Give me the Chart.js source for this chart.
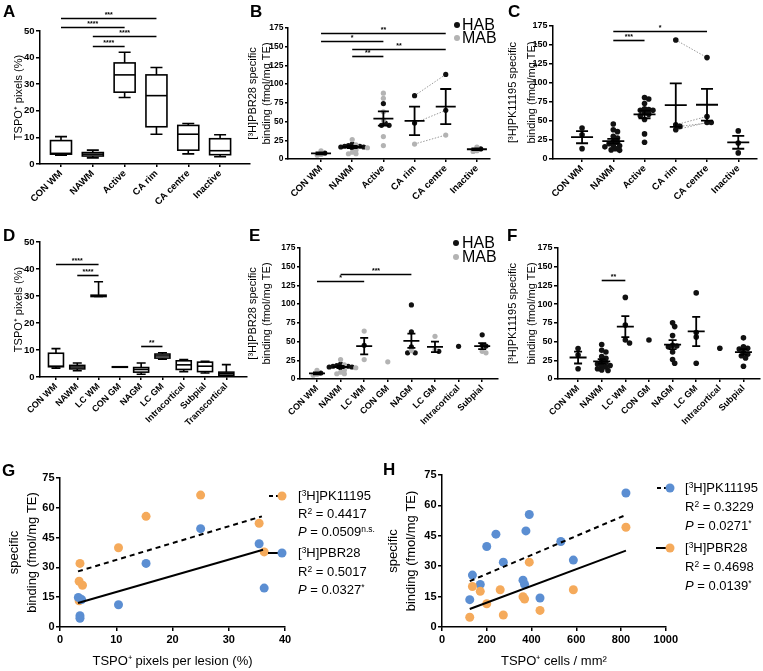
<!DOCTYPE html>
<html><head><meta charset="utf-8">
<script src="https://cdn.jsdelivr.net/npm/chart.js@4.4.1/dist/chart.umd.min.js"></script>
<style>
html,body{margin:0;padding:0;background:#fff;}
#wrap{position:relative;width:763px;height:671px;overflow:hidden;font-family:"Liberation Sans",Arial,Helvetica,sans-serif;color:#000;}
#wrap canvas{position:absolute;}
.pl{position:absolute;font-weight:bold;font-size:17px;line-height:17px;}
.t{position:absolute;white-space:nowrap;line-height:1;}
.leg{font-size:13px;}
.ab{font-size:16px;}
.dot{position:absolute;width:6px;height:6px;border-radius:50%;}
sup{font-size:65%;vertical-align:0;position:relative;top:-0.5em;}
svg{position:absolute;}
</style></head><body><div id="wrap">
<canvas id="cA"></canvas><canvas id="cB"></canvas><canvas id="cC"></canvas>
<canvas id="cD"></canvas><canvas id="cE"></canvas><canvas id="cF"></canvas>
<canvas id="cG"></canvas><canvas id="cH"></canvas>

<div class="pl" style="left:3px;top:3px">A</div>
<div class="pl" style="left:250px;top:3px">B</div>
<div class="pl" style="left:508px;top:3px">C</div>
<div class="pl" style="left:3px;top:227px">D</div>
<div class="pl" style="left:249px;top:227px">E</div>
<div class="pl" style="left:507px;top:227px">F</div>
<div class="pl" style="left:2px;top:462px">G</div>
<div class="pl" style="left:383px;top:461px">H</div>

<!-- HAB / MAB legends -->
<div class="dot" style="left:454px;top:22px;background:#111"></div>
<div class="t ab" style="left:462px;top:17px">HAB</div>
<div class="dot" style="left:454px;top:35px;background:#b3b3b3"></div>
<div class="t ab" style="left:462px;top:30px">MAB</div>
<div class="dot" style="left:453px;top:240px;background:#111"></div>
<div class="t ab" style="left:462px;top:235px">HAB</div>
<div class="dot" style="left:453px;top:254px;background:#b3b3b3"></div>
<div class="t ab" style="left:462px;top:249px">MAB</div>

<!-- G legend -->
<svg style="left:268px;top:491px" width="24" height="10"><line x1="1" y1="5" x2="12" y2="5" stroke="#000" stroke-width="2" stroke-dasharray="4,3"/><circle cx="14" cy="5" r="4.5" fill="#f5aa5b"/></svg>
<div class="t leg" style="left:298px;top:489px">[<sup>3</sup>H]PK11195</div>
<div class="t leg" style="left:298px;top:507px">R<sup>2</sup> = 0.4417</div>
<div class="t leg" style="left:298px;top:525px"><i>P</i> = 0.0509<sup>n.s.</sup></div>
<svg style="left:268px;top:548px" width="24" height="10"><line x1="0" y1="5" x2="12" y2="5" stroke="#000" stroke-width="2"/><circle cx="14" cy="5" r="4.5" fill="#5b8ed2"/></svg>
<div class="t leg" style="left:298px;top:546px">[<sup>3</sup>H]PBR28</div>
<div class="t leg" style="left:298px;top:565px">R<sup>2</sup> = 0.5017</div>
<div class="t leg" style="left:298px;top:583px"><i>P</i> = 0.0327<sup>*</sup></div>

<!-- H legend -->
<svg style="left:656px;top:483px" width="24" height="10"><line x1="1" y1="5" x2="12" y2="5" stroke="#000" stroke-width="2" stroke-dasharray="4,3"/><circle cx="14" cy="5" r="4.5" fill="#5b8ed2"/></svg>
<div class="t leg" style="left:685px;top:481px">[<sup>3</sup>H]PK11195</div>
<div class="t leg" style="left:685px;top:500px">R<sup>2</sup> = 0.3229</div>
<div class="t leg" style="left:685px;top:519px"><i>P</i> = 0.0271<sup>*</sup></div>
<svg style="left:656px;top:543px" width="24" height="10"><line x1="0" y1="5" x2="12" y2="5" stroke="#000" stroke-width="2"/><circle cx="14" cy="5" r="4.5" fill="#f5aa5b"/></svg>
<div class="t leg" style="left:685px;top:541px">[<sup>3</sup>H]PBR28</div>
<div class="t leg" style="left:685px;top:560px">R<sup>2</sup> = 0.4698</div>
<div class="t leg" style="left:685px;top:579px"><i>P</i> = 0.0139<sup>*</sup></div>
</div>
<script>
// ---------------- DATA ----------------
const catsAC = ['CON WM','NAWM','Active','CA rim','CA centre','Inactive'];
const catsD = ['CON WM','NAWM','LC WM','CON GM','NAGM','LC GM','Intracortical','Subpial','Transcortical'];
const catsEF = ['CON WM','NAWM','LC WM','CON GM','NAGM','LC GM','Intracortical','Subpial'];

// box plots: [min, q1, median, q3, max]
const boxA = [[3.3,3.7,4.0,8.8,10.3],[2.3,3.0,3.7,4.3,5.2],[25,27,33.5,38,42],[11.2,14,25.7,33.5,36.3],[3.8,5.2,11.2,14.5,15.2],[2.7,3.5,5,9.5,11]];
const boxD = [[3.3,3.8,4.0,8.8,10.5],[2.3,3.0,3.7,4.3,5.2],[29.8,29.8,30,30.3,35.3],[3.6,3.6,3.7,3.8,3.8],[1,1.8,2.8,3.5,5.2],[6.6,7,7.8,8.5,9],[2,2.8,4.5,6,6.5],[1.5,2,4,5.5,5.8],[0.3,0.6,1.2,1.8,4.6]];

// significance bars: [from category, to category, height, label]
const sigA = [[0,3,55,'***'],[0,2,51.5,'****'],[1,3,48,'****'],[1,2,44.5,'****']];
const sigB = [[0,4,168,'**'],[0,2,158,'*'],[1,4,147,'**'],[1,2,138,'**']];
const sigC = [[1,4,169,'*'],[1,2,156,'***']];
const sigD = [[0,2,42,'****'],[1,2,37.7,'****'],[4,5,11.5,'**']];
const sigE = [[0,2,131,'*'],[1,4,140.7,'***']];
const sigF = [[1,2,132,'**']];

// B: [3H]PBR28 binding, HAB and MAB per category
const bHab = [[8],[20,18,17,16,17,15,16],[74,45,45,48],[84.6,48],[113,65],[13.5]];
const bMab = [[11,5,6],[26,15,9,7,7,12,19],[88,81,63,52,30,18],[20],[32],[16,10,11]];
const bStats = [[7.5,1.3],[16,1.4],[54,9.5],[51,19],[70,23.5],[13,1.2]]; // [mean, SEM]

// C: [3H]PK11195 binding
const cVal = [[40.7,31.9,13.6],[46,38.5,36,30,27.6,23,22,20,18,17.5,13.6,12,11.4,16],[81,79,73,66,65,64,64,61,59,57,52,33,22],[156.6,45,38.5,42.9],[133.4,56,48,48],[37,21,8]];
const cStats = [[28.7,8],[23.6,3],[58.6,5],[70.8,28.6],[71.4,20.8],[22,8.5]];

// E: [3H]PBR28 binding (grey matter set)
const eHab = [[8],[20,18,17,16,17,15,16],[45],[],[99,63,43,35,35],[37],[43.6],[59,44,45]];
const eMab = [[11.5,5,6.5],[26,15,9,7,7,12,19],[64,26],[23],[38],[57,39],[],[37,35]];
const eStats = [[7.5,1.3],[16,1.4],[44,11],null,[51,9.5],[43,7],null,[44,4]];

// F: [3H]PK11195 binding (grey matter set)
const fVal = [[40.7,31.9,13.6],[46,38.5,36,30,27.6,23,22,20,18,17.5,13.6,12,11.4,16],[109,72,48,52],[52],[75,70,58,45,44,43,36,26,21],[115,62,56,21],[41],[55,43,41,40,36,33,31,28,17]];
const fStats = [[28.7,8],[23.6,3],[70,14],null,[46,6],[63.5,19.5],null,[36,3.8]];

// G: binding vs TSPO+ pixels per lesion (%)
const gPkX = [3.4,3.55,4.0,3.4,10.4,15.3,25.0,35.4,36.3];
const gPkY = [23,32,21,13.2,39.9,55.7,66.4,52.2,37.8];
const gPbX = [3.26,3.85,3.55,3.55,10.4,15.3,25.0,35.4,36.3];
const gPbY = [14.9,13.8,5.7,4.4,11.2,32,49.5,41.9,19.6];
const gPkFitX = [3.2,35.9], gPkFitY = [28,55.7];
const gPbFitX = [3.2,36.1], gPbFitY = [12.1,38.9];

// H: binding vs TSPO+ cells / mm2
const hPkX = [124,136,171,200,241,274,362,369,375,390,438,531,587,822];
const hPkY = [13.5,25.6,21,39.7,45.8,32,23.1,21,47.4,55.5,14.3,42.2,33,66.1];
const hPbX = [124,136,171,200,260,274,362,369,390,438,587,822];
const hPbY = [4.8,20,17.6,11.5,18.4,5.9,14.9,13.8,32,8.2,18.4,49.2];
const hPkFitX = [124,822], hPkFitY = [22.6,55.3];
const hPbFitX = [124,822], hPbFitY = [8.9,37.7];

// ---------------- STYLE / LAYOUT ----------------
const FONT = '"Liberation Sans", Arial, Helvetica, sans-serif';
Chart.defaults.font.family = FONT;
Chart.defaults.color = '#000';
Chart.defaults.animation = false;
const HAB = '#111111', MAB = '#b3b3b3', ORANGE = '#f5aa5b', BLUE = '#5b8ed2';

const GEO = {
  A:{cl:0,ct:0,cw:254,ch:205,l:40,t:31,r:250,b:164, xmin:-0.66, xmax:5.94},
  B:{cl:245,ct:0,cw:263,ch:205,l:288,t:28,r:490,b:159, xmin:-1.06, xmax:5.42},
  C:{cl:502,ct:0,cw:261,ch:205,l:553,t:26,r:757,b:159, xmin:-0.93, xmax:5.6},
  D:{cl:0,ct:205,cw:254,ch:222,l:40,t:242,r:247,b:377, xmin:-0.75, xmax:8.97},
  E:{cl:245,ct:205,cw:259,ch:222,l:300,t:248,r:498,b:379, xmin:-0.72, xmax:7.67},
  F:{cl:504,ct:205,cw:259,ch:222,l:558,t:248,r:760,b:379, xmin:-0.85, xmax:7.7},
  G:{cl:0,ct:430,cw:300,ch:241,l:60,t:478,r:285,b:627},
  H:{cl:380,ct:430,cw:300,ch:241,l:442,t:475,r:670,b:627}
};

function setupCanvas(id, g){
  const c = document.getElementById(id);
  c.width = g.cw; c.height = g.ch;
  c.style.left = g.cl+'px'; c.style.top = g.ct+'px';
  c.style.width = g.cw+'px'; c.style.height = g.ch+'px';
  return c;
}
function catAxis(g, cats, size){
  return {
    type:'linear', min:g.xmin, max:g.xmax, offset:false,
    afterBuildTicks: s => { s.ticks = cats.map((c,i)=>({value:i})); },
    afterFit: s => { s.height = g.ct+g.ch-g.b; },
    ticks:{autoSkip:false, minRotation:45, maxRotation:45, padding:1, color:'#000',
      font:{size:size, weight:'bold'}, callback: v => cats[Math.round(v)]},
    grid:{display:true, drawOnChartArea:false, drawTicks:true, tickLength:3, color:'#000', lineWidth:1.5},
    border:{display:true, color:'#000', width:1.5}
  };
}
function numXAxis(g, max, step, title){
  return {
    type:'linear', min:0, max:max, offset:false,
    afterFit: s => { s.height = g.ct+g.ch-g.b; },
    ticks:{stepSize:step, padding:2, color:'#000', font:{size:11, weight:'bold'}, callback: v => String(v)},
    grid:{display:true, drawOnChartArea:false, drawTicks:true, tickLength:4, color:'#000', lineWidth:1.5},
    border:{display:true, color:'#000', width:1.5},
    title:{display:true, text:title, color:'#000', font:{size:13, weight:'normal'}, padding:{top:0,bottom:2}}
  };
}
function valAxis(g, max, step, size, title, tsize, tpad, lh, tl){
  return {
    type:'linear', min:0, max:max,
    afterFit: s => { s.width = g.l-g.cl; },
    ticks:{stepSize:step, padding:1.5, color:'#000', font:{size:size, weight:'bold'}},
    grid:{display:true, drawOnChartArea:false, drawTicks:true, tickLength:tl||4, color:'#000', lineWidth:1.5},
    border:{display:true, color:'#000', width:1.5},
    title:{display:true, text:title, color:'#000', font:{size:tsize, weight:'normal', lineHeight:lh}, padding:{top:tpad,bottom:0}}
  };
}
function baseOpts(g, x, y){
  return {
    responsive:false, maintainAspectRatio:false, animation:false, events:[],
    layout:{padding:{left:0, top:g.t-g.ct, right:g.cl+g.cw-g.r, bottom:0}},
    plugins:{legend:{display:false}, tooltip:{enabled:false}},
    scales:{x:x, y:y}
  };
}

// box-and-whisker drawing through the chart scales
function boxPlugin(data, w, cap){
  return {id:'boxes', afterDatasetsDraw(chart){
    const ctx = chart.ctx, xs = chart.scales.x, ys = chart.scales.y;
    ctx.save(); ctx.strokeStyle = '#000'; ctx.lineWidth = 1.6;
    data.forEach((b,i)=>{
      const x = xs.getPixelForValue(i);
      const [mn,q1,md,q3,mx] = b.map(v=>ys.getPixelForValue(v));
      ctx.beginPath();
      ctx.moveTo(x,mx); ctx.lineTo(x,q3); ctx.moveTo(x,q1); ctx.lineTo(x,mn);
      ctx.moveTo(x-cap/2,mx); ctx.lineTo(x+cap/2,mx); ctx.moveTo(x-cap/2,mn); ctx.lineTo(x+cap/2,mn);
      ctx.stroke();
      ctx.fillStyle = '#fff';
      ctx.fillRect(x-w/2,q3,w,Math.max(q1-q3,0.1));
      ctx.strokeRect(x-w/2,q3,w,Math.max(q1-q3,0.1));
      ctx.beginPath(); ctx.moveTo(x-w/2,md); ctx.lineTo(x+w/2,md); ctx.stroke();
    });
    ctx.restore();
  }};
}
// significance bars
function sigPlugin(items, fs){
  return {id:'sig', afterDraw(chart){
    const ctx = chart.ctx, xs = chart.scales.x, ys = chart.scales.y;
    ctx.save(); ctx.strokeStyle = '#000'; ctx.fillStyle = '#000'; ctx.lineWidth = 1.6;
    ctx.font = 'bold '+fs+'px '+FONT; ctx.textAlign = 'center'; ctx.textBaseline = 'alphabetic';
    items.forEach(([a,b,v,lab])=>{
      const x1 = xs.getPixelForValue(a), x2 = xs.getPixelForValue(b), y = Math.round(ys.getPixelForValue(v))+0.5;
      ctx.beginPath(); ctx.moveTo(x1,y); ctx.lineTo(x2,y); ctx.stroke();
      ctx.fillText(lab,(x1+x2)/2,y-1.5);
    });
    ctx.restore();
  }};
}
// mean +/- SEM
function statPlugin(stats, mw, cw, lw){
  return {id:'stats', afterDatasetsDraw(chart){
    const ctx = chart.ctx, xs = chart.scales.x, ys = chart.scales.y;
    ctx.save(); ctx.strokeStyle = '#000'; ctx.lineWidth = lw;
    stats.forEach((s,i)=>{
      if(!s) return;
      const x = xs.getPixelForValue(i), m = ys.getPixelForValue(s[0]);
      const hi = ys.getPixelForValue(s[0]+s[1]), lo = ys.getPixelForValue(s[0]-s[1]);
      ctx.beginPath();
      ctx.moveTo(x-mw/2,m); ctx.lineTo(x+mw/2,m);
      ctx.moveTo(x,hi); ctx.lineTo(x,lo);
      ctx.moveTo(x-cw/2,hi); ctx.lineTo(x+cw/2,hi);
      ctx.moveTo(x-cw/2,lo); ctx.lineTo(x+cw/2,lo);
      ctx.stroke();
    });
    ctx.restore();
  }};
}
// horizontal spreading of crowded dots (layout only)
function swarm(vals, pxY, pxX, d){
  const order = vals.map((v,i)=>i).sort((a,b)=>vals[b]-vals[a]);
  const placed = [], off = new Array(vals.length).fill(0);
  order.forEach(i=>{
    const y = vals[i]*pxY;
    for(let k=0;k<60;k++){
      const s = k===0 ? 0 : (k%2 ? 1 : -1)*Math.ceil(k/2)*d*0.5;
      if(placed.every(p => (p.x-s)*(p.x-s)+(p.y-y)*(p.y-y) >= d*d*0.8)){
        off[i] = s/pxX; placed.push({x:s,y:y}); break;
      }
    }
  });
  return off;
}
function groupPoints(groups, g, ymax, nCat, d){
  const pxY = (g.b-g.t)/ymax, pxX = (g.r-g.l)/(g.xmax-g.xmin);
  const out = groups.map(()=>[]);
  for(let i=0;i<nCat;i++){
    const all = []; groups.forEach((s,si)=> (s[i]||[]).forEach((v,j)=>all.push([si,j,v])));
    const off = swarm(all.map(a=>a[2]), pxY, pxX, d);
    groups.forEach((s,si)=>{ out[si][i] = []; });
    all.forEach((a,k)=>{ out[a[0]][i][a[1]] = {x:i+off[k], y:a[2]}; });
  }
  return out;
}
function flat(pp){ return pp.reduce((acc,c)=>acc.concat(c||[]),[]); }
function dotSet(pts, color, r){ return {type:'scatter', data:pts, backgroundColor:color, borderWidth:0, pointRadius:r, pointHoverRadius:r}; }
function linkSet(p1, p2){ return {type:'line', data:[p1,p2], borderColor:'#9a9a9a', borderWidth:1, borderDash:[1.5,1.5], pointRadius:0, fill:false, tension:0, order:5}; }

// ---------------- PANEL A ----------------
(function(){
  const g = GEO.A, c = setupCanvas('cA', g);
  new Chart(c, {type:'scatter', data:{datasets:[]},
    options: baseOpts(g, catAxis(g, catsAC, 9.5), valAxis(g, 50, 10, 9.5, 'TSPO\u207A pixels (%)', 11, 12, 1.2)),
    plugins:[boxPlugin(boxA, 21, 12), sigPlugin(sigA, 7)]});
})();
// ---------------- PANEL D ----------------
(function(){
  const g = GEO.D, c = setupCanvas('cD', g);
  new Chart(c, {type:'scatter', data:{datasets:[]},
    options: baseOpts(g, catAxis(g, catsD, 9), valAxis(g, 50, 10, 9.5, 'TSPO\u207A pixels (%)', 11, 12, 1.2)),
    plugins:[boxPlugin(boxD, 15, 9), sigPlugin(sigD, 7)]});
})();
// ---------------- PANEL B ----------------
(function(){
  const g = GEO.B, c = setupCanvas('cB', g);
  const [h, m] = groupPoints([bHab, bMab], g, 175, 6, 3.8);
  const ds = [dotSet(flat(m), MAB, 2.6), dotSet(flat(h), HAB, 2.6)];
  h[3].forEach((p,k)=>ds.push(linkSet(p, h[4][k])));
  m[3].forEach((p,k)=>ds.push(linkSet(p, m[4][k])));
  new Chart(c, {type:'scatter', data:{datasets:ds},
    options: baseOpts(g, catAxis(g, catsAC, 9.5), valAxis(g, 175, 25, 8.5, ['[\u00B3H]PBR28 specific','binding (fmol/mg TE)'], 11, 1, 1.27, 3)),
    plugins:[statPlugin(bStats, 20, 11, 1.8), sigPlugin(sigB, 7)]});
})();
// ---------------- PANEL C ----------------
(function(){
  const g = GEO.C, c = setupCanvas('cC', g);
  const [v] = groupPoints([cVal], g, 175, 6, 4.2);
  const ds = [dotSet(flat(v), HAB, 2.8)];
  v[3].forEach((p,k)=>ds.push(linkSet(p, v[4][k])));
  new Chart(c, {type:'scatter', data:{datasets:ds},
    options: baseOpts(g, catAxis(g, catsAC, 9.5), valAxis(g, 175, 25, 9, ['[\u00B3H]PK11195 specific','binding (fmol/mg TE)'], 11, 1.5, 1.7)),
    plugins:[statPlugin(cStats, 22, 12, 1.8), sigPlugin(sigC, 7)]});
})();
// ---------------- PANEL E ----------------
(function(){
  const g = GEO.E, c = setupCanvas('cE', g);
  const [h, m] = groupPoints([eHab, eMab], g, 175, 8, 3.8);
  const ds = [dotSet(flat(m), MAB, 2.6), dotSet(flat(h), HAB, 2.6)];
  new Chart(c, {type:'scatter', data:{datasets:ds},
    options: baseOpts(g, catAxis(g, catsEF, 9), valAxis(g, 175, 25, 8.5, ['[\u00B3H]PBR28 specific','binding (fmol/mg TE)'], 11, 1, 1.27, 3)),
    plugins:[statPlugin(eStats, 16, 8, 1.8), sigPlugin(sigE, 7)]});
})();
// ---------------- PANEL F ----------------
(function(){
  const g = GEO.F, c = setupCanvas('cF', g);
  const [v] = groupPoints([fVal], g, 175, 8, 4.2);
  const ds = [dotSet(flat(v), HAB, 2.8)];
  new Chart(c, {type:'scatter', data:{datasets:ds},
    options: baseOpts(g, catAxis(g, catsEF, 9), valAxis(g, 175, 25, 9, ['[\u00B3H]PK11195 specific','binding (fmol/mg TE)'], 11, 0, 1.7)),
    plugins:[statPlugin(fStats, 17, 8, 1.8), sigPlugin(sigF, 7)]});
})();
// ---------------- PANELS G, H ----------------
function xy(xs, ys){ return xs.map((x,i)=>({x:x, y:ys[i]})); }
function fitSet(xs, ys, dash){ return {type:'line', data:xy(xs,ys), borderColor:'#000', borderWidth:2, borderDash:dash, pointRadius:0, fill:false, order:0}; }
(function(){
  const g = GEO.G, c = setupCanvas('cG', g);
  const ds = [
    {type:'scatter', data:xy(gPkX,gPkY), backgroundColor:ORANGE, borderWidth:0, pointRadius:4.5, order:2},
    {type:'scatter', data:xy(gPbX,gPbY), backgroundColor:BLUE, borderWidth:0, pointRadius:4.5, order:1},
    fitSet(gPkFitX, gPkFitY, [5,4]), fitSet(gPbFitX, gPbFitY, [])
  ];
  new Chart(c, {type:'scatter', data:{datasets:ds},
    options: baseOpts(g, numXAxis(g, 40, 10, 'TSPO\u207A pixels per lesion (%)'), valAxis(g, 75, 15, 11, ['specific','binding (fmol/mg TE)'], 13, 4.6, 1.45))});
})();
(function(){
  const g = GEO.H, c = setupCanvas('cH', g);
  const ds = [
    {type:'scatter', data:xy(hPkX,hPkY), backgroundColor:BLUE, borderWidth:0, pointRadius:4.5, order:2},
    {type:'scatter', data:xy(hPbX,hPbY), backgroundColor:ORANGE, borderWidth:0, pointRadius:4.5, order:1},
    fitSet(hPkFitX, hPkFitY, [5,4]), fitSet(hPbFitX, hPbFitY, [])
  ];
  new Chart(c, {type:'scatter', data:{datasets:ds},
    options: baseOpts(g, numXAxis(g, 1000, 200, 'TSPO\u207A cells / mm\u00B2'), valAxis(g, 75, 15, 11, ['specific','binding (fmol/mg TE)'], 13, 3.6, 1.45))});
})();
</script></body></html>
